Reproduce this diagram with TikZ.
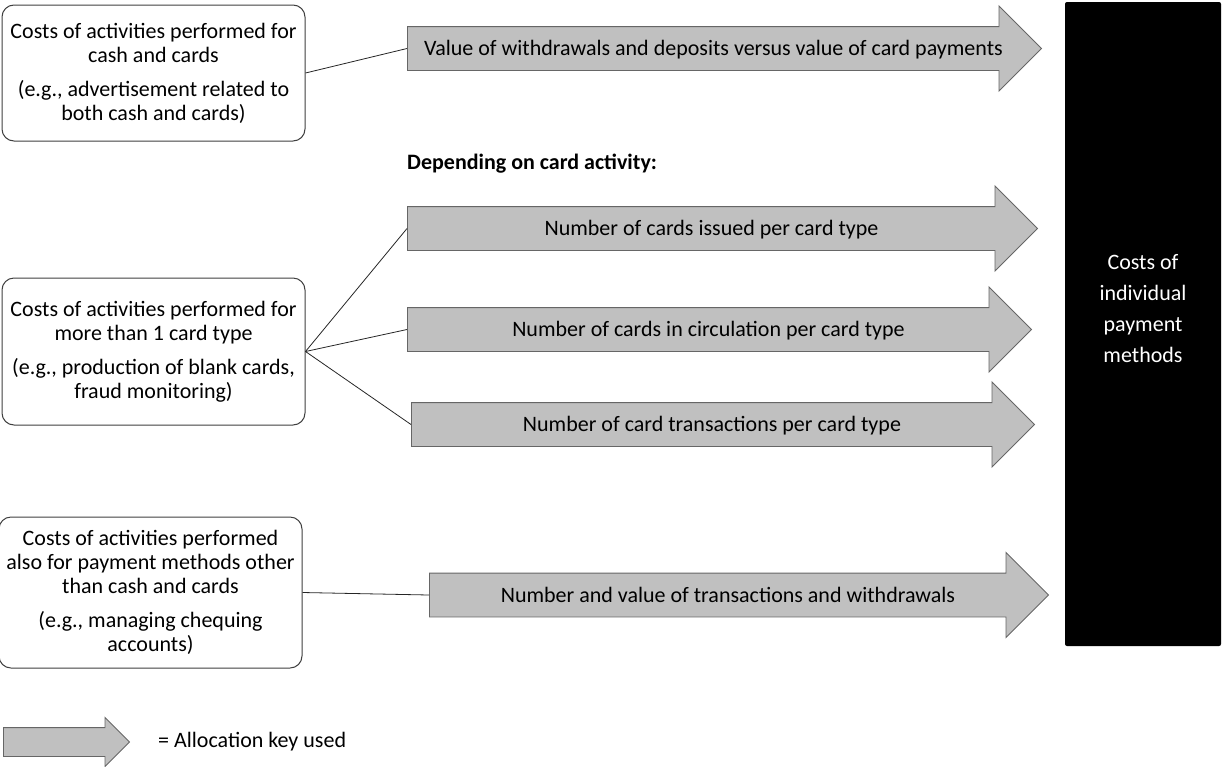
\documentclass[tikz,border=0pt]{standalone}
\usepackage{fontspec}
\setmainfont{Carlito}
\usetikzlibrary{shapes.arrows}
\definecolor{keygray}{HTML}{C0C0C0}
\definecolor{keyline}{HTML}{666666}
\definecolor{boxline}{HTML}{404040}
\begin{document}
\begin{tikzpicture}[x=1pt, y=-1pt, font=\fontsize{22}{24}\selectfont,
    costbox/.style  = {draw=boxline, line width=1pt, rounded corners=12pt, fill=white,
                       align=center, minimum width=303pt, inner sep=0pt},
    keyarrow/.style = {single arrow, draw=keyline, fill=keygray, line width=0.9pt, anchor=tail,
                       single arrow head extend=20.5pt, inner ysep=0pt,
                       text height=28.5pt, text depth=14.5pt},
    link/.style     = {draw=black!85, line width=0.8pt}]
    \useasboundingbox (0,0) rectangle (1222,766);
    % cost pools on the left
    \node[costbox, minimum height=136pt] (cboth)  at (153.5, 73.0) {Costs of activities performed for\\cash and cards\\[10pt](e.g., advertisement related to\\both cash and cards)};
    \node[costbox, minimum height=147pt] (cmulti) at (153.5,351.5) {Costs of activities performed for\\more than 1 card type\\[10pt](e.g., production of blank cards,\\fraud monitoring)};
    \node[costbox, minimum height=151pt] (cother) at (150.5,592.5) {Costs of activities performed\\also for payment methods other\\than cash and cards\\[10pt](e.g., managing chequing\\accounts)};
    % allocation keys
    \node[keyarrow, minimum height=634pt] (kvalue)  at (407, 48.5) {Value of withdrawals and deposits versus value of card payments};
    \node[anchor=west, inner sep=0pt, font=\fontsize{22}{24}\selectfont\bfseries] (cardhead) at (407,164) {Depending on card activity:};
    \node[keyarrow, minimum height=630pt] (kissued) at (407,228.5) {Number of cards issued per card type};
    \node[keyarrow, minimum height=624pt] (kcirc)   at (407,329.5) {Number of cards in circulation per card type};
    \node[keyarrow, minimum height=623pt] (ktrans)  at (411,424.5) {Number of card transactions per card type};
    \node[keyarrow, minimum height=619pt] (kall)    at (429,595.0) {Number and value of transactions and withdrawals};
    % target
    \node[fill=black, rounded corners=2pt, minimum width=156pt, minimum height=644pt] (pay) at (1143,324) {};
    \node[white, align=center, font=\fontsize{22}{31}\selectfont] (paytext) at (1143,308.5) {Costs of\\individual\\payment\\methods};
    \draw[link] (cboth.east)  -- (kvalue.tail);
    \draw[link] (cmulti.east) -- (kissued.tail);
    \draw[link] (cmulti.east) -- (kcirc.tail);
    \draw[link] (cmulti.east) -- (ktrans.tail);
    \draw[link] (cother.east) -- (kall.tail);
    % legend
    \node[keyarrow, minimum height=126pt, single arrow head extend=10pt, text height=14pt, text depth=14pt] (legkey) at (3,742) {};
    \node[anchor=west, inner sep=0pt] (legtext) at (158,742) {= Allocation key used};
\end{tikzpicture}
\end{document}
